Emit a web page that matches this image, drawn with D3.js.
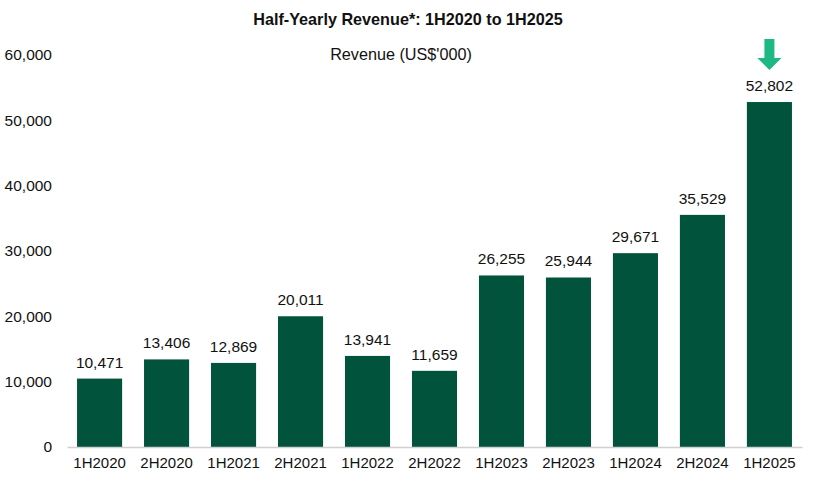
<!DOCTYPE html>
<html>
<head>
<meta charset="utf-8">
<script src="https://cdn.jsdelivr.net/npm/d3@7"></script>
<style>
  body { margin: 0; background: #fff; }
  svg text { font-family: "Liberation Sans", Arial, sans-serif; fill: #111; }
</style>
</head>
<body>
<div id="chart"></div>
<script>
// half-year periods and revenue (US$'000)
var periods = ["1H2020", "2H2020", "1H2021", "2H2021", "1H2022", "2H2022", "1H2023", "2H2023", "1H2024", "2H2024", "1H2025"];
var revenue = [10471, 13406, 12869, 20011, 13941, 11659, 26255, 25944, 29671, 35529, 52802];
var yTicks = [0, 10000, 20000, 30000, 40000, 50000, 60000];
var chartTitle = "Half-Yearly Revenue*: 1H2020 to 1H2025";
var subTitle = "Revenue (US$'000)";

function drawRevenueChart(div_name) {
    var divWidth = 815;
    var divHeight = 485;
    var margin = {top: 55, right: 13, bottom: 38, left: 67};
    var width = divWidth - margin.left - margin.right,
        height = divHeight - margin.top - margin.bottom;

    var data = periods.map(function(p, i) { return {period: p, value: revenue[i]}; });

    var svg = d3.select(div_name).append("svg")
        .attr("width", divWidth)
        .attr("height", divHeight);

    var x = d3.scaleBand()
        .domain(periods)
        .range([0, width])
        .paddingInner(0.327)
        .paddingOuter(0.15);

    var y = d3.scaleLinear()
        .domain([0, 60000])
        .range([height, 0]);

    var g = svg.append("g")
        .attr("transform", "translate(" + margin.left + "," + margin.top + ")");

    // y axis labels only, no line
    var yAxis = d3.axisLeft(y).tickValues(yTicks).tickFormat(d3.format(",")).tickSize(0).tickPadding(15);
    var gy = g.append("g").call(yAxis);
    gy.select(".domain").remove();
    gy.selectAll("text").style("font-size", "15.5px").attr("fill", "#111");

    // bars
    g.selectAll(".bar")
        .data(data)
        .enter().append("rect")
        .attr("class", "bar")
        .attr("x", function(d) { return x(d.period); })
        .attr("y", function(d) { return y(d.value); })
        .attr("width", x.bandwidth())
        .attr("height", function(d) { return height - y(d.value); })
        .attr("fill", "#02533c");

    // x axis
    var xAxis = d3.axisBottom(x).tickSize(0).tickPadding(10);
    var gx = g.append("g")
        .attr("transform", "translate(0," + height + ")")
        .call(xAxis);
    gx.select(".domain").attr("stroke", "#d0d0d0").attr("stroke-width", 1.5);
    gx.selectAll("text").style("font-size", "15px").attr("fill", "#111");

    // value labels
    g.selectAll(".val")
        .data(data)
        .enter().append("text")
        .attr("class", "val")
        .attr("x", function(d) { return x(d.period) + x.bandwidth() / 2; })
        .attr("y", function(d) { return y(d.value) - 11; })
        .attr("text-anchor", "middle")
        .style("font-size", "15.5px")
        .text(function(d) { return d3.format(",")(d.value); });

    // arrow above the latest bar
    var last = data[data.length - 1];
    var ax = x(last.period) + x.bandwidth() / 2;
    var atop = y(last.value) - 63;
    g.append("path")
        .attr("d", "M" + (ax - 5) + "," + atop + "h10v19h7l-12,12l-12,-12h7z")
        .attr("fill", "#1db884");

    // titles
    svg.append("text")
        .attr("x", 408)
        .attr("y", 25)
        .attr("text-anchor", "middle")
        .style("font-size", "16.2px")
        .style("font-weight", "bold")
        .text(chartTitle);

    svg.append("text")
        .attr("x", 401)
        .attr("y", 60)
        .attr("text-anchor", "middle")
        .style("font-size", "16.2px")
        .text(subTitle);
}

drawRevenueChart("#chart");
</script>
</body>
</html>
